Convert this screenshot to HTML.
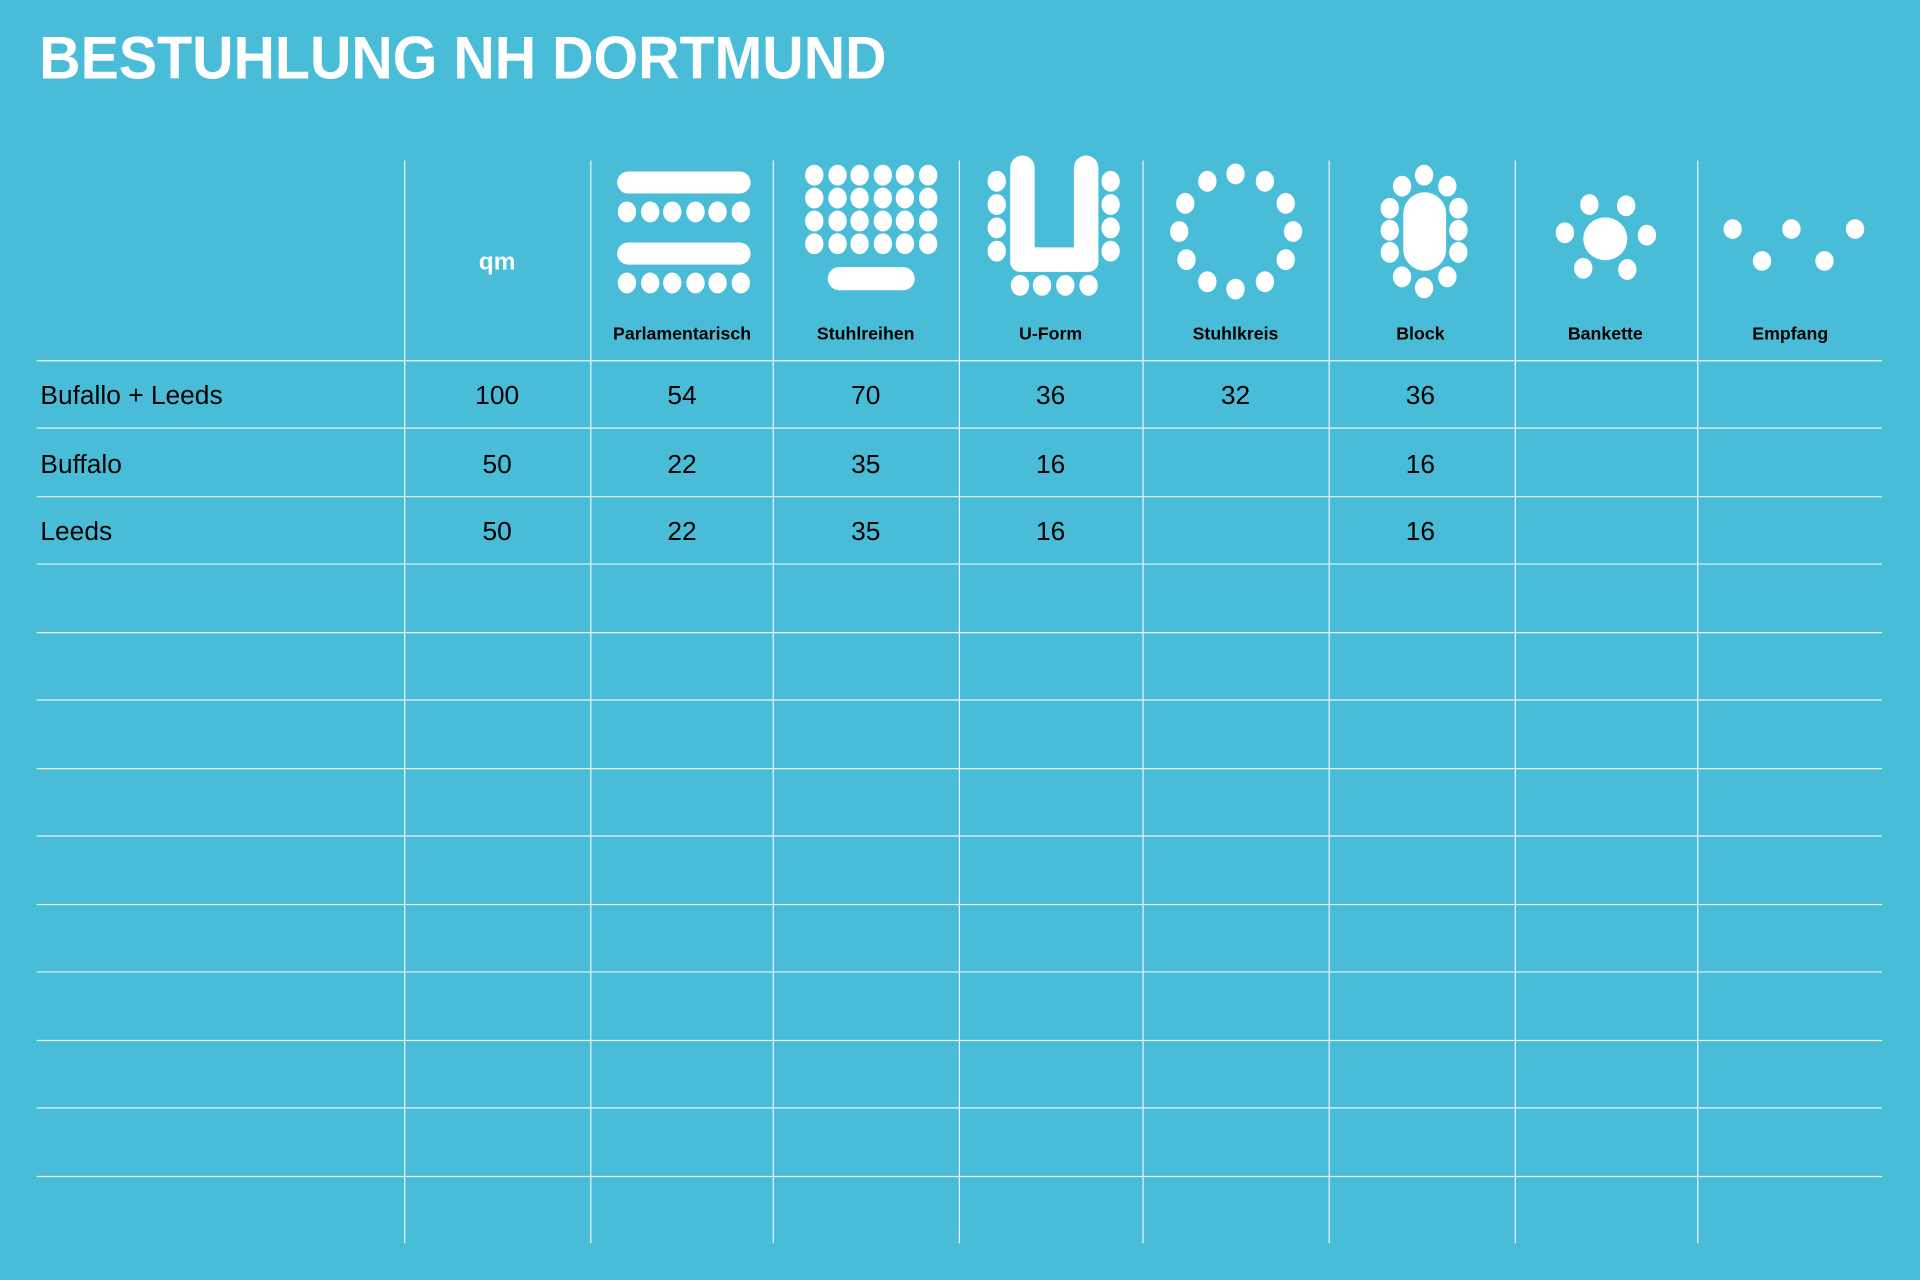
<!DOCTYPE html>
<html><head><meta charset="utf-8"><style>html,body{margin:0;padding:0;background:#49bdd8;}svg{display:block}</style></head>
<body>
<svg width="1920" height="1280" viewBox="0 0 1568 1045" preserveAspectRatio="none" xmlns="http://www.w3.org/2000/svg" font-family="'Liberation Sans', Arial, sans-serif">
<rect width="1568" height="1045" fill="#49bdd8"/>
<text x="32" y="64" font-size="49" font-weight="bold" fill="#fff" textLength="692" lengthAdjust="spacingAndGlyphs">BESTUHLUNG NH DORTMUND</text>
<g stroke="#e6f5f9" stroke-width="1">
<line x1="330.5" y1="131" x2="330.5" y2="1015"/><line x1="482.5" y1="131" x2="482.5" y2="1015"/>
<line x1="631.5" y1="131" x2="631.5" y2="1015"/><line x1="783.5" y1="131" x2="783.5" y2="1015"/>
<line x1="933.5" y1="131" x2="933.5" y2="1015"/><line x1="1085.5" y1="131" x2="1085.5" y2="1015"/>
<line x1="1237.5" y1="131" x2="1237.5" y2="1015"/><line x1="1386.5" y1="131" x2="1386.5" y2="1015"/>
<line x1="30" y1="294.5" x2="1537" y2="294.5"/><line x1="30" y1="349.5" x2="1537" y2="349.5"/>
<line x1="30" y1="405.5" x2="1537" y2="405.5"/><line x1="30" y1="460.5" x2="1537" y2="460.5"/>
<line x1="30" y1="516.5" x2="1537" y2="516.5"/><line x1="30" y1="571.5" x2="1537" y2="571.5"/>
<line x1="30" y1="627.5" x2="1537" y2="627.5"/><line x1="30" y1="682.5" x2="1537" y2="682.5"/>
<line x1="30" y1="738.5" x2="1537" y2="738.5"/><line x1="30" y1="793.5" x2="1537" y2="793.5"/>
<line x1="30" y1="849.5" x2="1537" y2="849.5"/><line x1="30" y1="904.5" x2="1537" y2="904.5"/>
<line x1="30" y1="960.5" x2="1537" y2="960.5"/>
</g>
<text x="406" y="220" font-size="20" font-weight="bold" fill="#fff" text-anchor="middle">qm</text>
<g font-size="14.5" font-weight="bold" fill="#000" text-anchor="middle">
<text x="557" y="277">Parlamentarisch</text><text x="707" y="277">Stuhlreihen</text>
<text x="858" y="277">U-Form</text><text x="1009" y="277">Stuhlkreis</text>
<text x="1160" y="277">Block</text><text x="1311" y="277">Bankette</text><text x="1462" y="277">Empfang</text>
</g>
<g font-size="21.5" fill="#000">
<text x="33" y="330">Bufallo + Leeds</text><text x="33" y="386">Buffalo</text><text x="33" y="441">Leeds</text>
<g text-anchor="middle">
<text x="406" y="330">100</text><text x="557" y="330">54</text><text x="707" y="330">70</text><text x="858" y="330">36</text><text x="1009" y="330">32</text><text x="1160" y="330">36</text>
<text x="406" y="386">50</text><text x="557" y="386">22</text><text x="707" y="386">35</text><text x="858" y="386">16</text><text x="1160" y="386">16</text>
<text x="406" y="441">50</text><text x="557" y="441">22</text><text x="707" y="441">35</text><text x="858" y="441">16</text><text x="1160" y="441">16</text>
</g></g>
<g fill="#fff">
<!-- Parlamentarisch -->
<rect x="504" y="140" width="109" height="18" rx="9"/><rect x="504" y="198" width="109" height="18" rx="9"/>
<g><ellipse cx="512" cy="173" rx="7.5" ry="8.5"/><ellipse cx="531" cy="173" rx="7.5" ry="8.5"/><ellipse cx="549" cy="173" rx="7.5" ry="8.5"/><ellipse cx="568" cy="173" rx="7.5" ry="8.5"/><ellipse cx="586" cy="173" rx="7.5" ry="8.5"/><ellipse cx="605" cy="173" rx="7.5" ry="8.5"/>
<ellipse cx="512" cy="231" rx="7.5" ry="8.5"/><ellipse cx="531" cy="231" rx="7.5" ry="8.5"/><ellipse cx="549" cy="231" rx="7.5" ry="8.5"/><ellipse cx="568" cy="231" rx="7.5" ry="8.5"/><ellipse cx="586" cy="231" rx="7.5" ry="8.5"/><ellipse cx="605" cy="231" rx="7.5" ry="8.5"/></g>
<!-- Stuhlreihen -->
<g id="r1"><ellipse cx="665" cy="143" rx="7.5" ry="8.5"/><ellipse cx="684" cy="143" rx="7.5" ry="8.5"/><ellipse cx="702" cy="143" rx="7.5" ry="8.5"/><ellipse cx="721" cy="143" rx="7.5" ry="8.5"/><ellipse cx="739" cy="143" rx="7.5" ry="8.5"/><ellipse cx="758" cy="143" rx="7.5" ry="8.5"/></g>
<use href="#r1" y="18.7"/><use href="#r1" y="37.4"/><use href="#r1" y="56"/>
<rect x="676" y="218" width="71" height="19" rx="9.5"/>
<!-- U-Form -->
<path d="M825 137a6 6 0 0 1 20 0V202H877V137a6 6 0 0 1 20 0V214a8 8 0 0 1-8 8H833a8 8 0 0 1-8-8Z"/>
<g><ellipse cx="814" cy="148" rx="7.5" ry="8.5"/><ellipse cx="814" cy="167" rx="7.5" ry="8.5"/><ellipse cx="814" cy="186" rx="7.5" ry="8.5"/><ellipse cx="814" cy="205" rx="7.5" ry="8.5"/>
<ellipse cx="907" cy="148" rx="7.5" ry="8.5"/><ellipse cx="907" cy="167" rx="7.5" ry="8.5"/><ellipse cx="907" cy="186" rx="7.5" ry="8.5"/><ellipse cx="907" cy="205" rx="7.5" ry="8.5"/>
<ellipse cx="833" cy="233" rx="7.5" ry="8.5"/><ellipse cx="851" cy="233" rx="7.5" ry="8.5"/><ellipse cx="870" cy="233" rx="7.5" ry="8.5"/><ellipse cx="889" cy="233" rx="7.5" ry="8.5"/></g>
<!-- Stuhlkreis -->
<g><ellipse cx="1009" cy="142" rx="7.5" ry="8.5"/><ellipse cx="986" cy="148" rx="7.5" ry="8.5"/><ellipse cx="1033" cy="148" rx="7.5" ry="8.5"/><ellipse cx="968" cy="166" rx="7.5" ry="8.5"/><ellipse cx="1050" cy="166" rx="7.5" ry="8.5"/><ellipse cx="963" cy="189" rx="7.5" ry="8.5"/><ellipse cx="1056" cy="189" rx="7.5" ry="8.5"/><ellipse cx="969" cy="212" rx="7.5" ry="8.5"/><ellipse cx="1050" cy="212" rx="7.5" ry="8.5"/><ellipse cx="986" cy="230" rx="7.5" ry="8.5"/><ellipse cx="1033" cy="230" rx="7.5" ry="8.5"/><ellipse cx="1009" cy="236" rx="7.5" ry="8.5"/></g>
<!-- Block -->
<rect x="1146" y="157" width="35" height="64" rx="17.5"/>
<g><ellipse cx="1163" cy="143" rx="7.5" ry="8.5"/><ellipse cx="1145" cy="152" rx="7.5" ry="8.5"/><ellipse cx="1182" cy="152" rx="7.5" ry="8.5"/><ellipse cx="1135" cy="170" rx="7.5" ry="8.5"/><ellipse cx="1135" cy="188" rx="7.5" ry="8.5"/><ellipse cx="1135" cy="206" rx="7.5" ry="8.5"/><ellipse cx="1191" cy="170" rx="7.5" ry="8.5"/><ellipse cx="1191" cy="188" rx="7.5" ry="8.5"/><ellipse cx="1191" cy="206" rx="7.5" ry="8.5"/><ellipse cx="1145" cy="226" rx="7.5" ry="8.5"/><ellipse cx="1182" cy="226" rx="7.5" ry="8.5"/><ellipse cx="1163" cy="235" rx="7.5" ry="8.5"/></g>
<!-- Bankette -->
<ellipse cx="1311" cy="195" rx="18" ry="17.5"/>
<g><ellipse cx="1298" cy="167" rx="7.5" ry="8.5"/><ellipse cx="1328" cy="168" rx="7.5" ry="8.5"/><ellipse cx="1278" cy="190" rx="7.5" ry="8.5"/><ellipse cx="1345" cy="192" rx="7.5" ry="8.5"/><ellipse cx="1293" cy="219" rx="7.5" ry="8.5"/><ellipse cx="1329" cy="220" rx="7.5" ry="8.5"/></g>
<!-- Empfang -->
<g><ellipse cx="1415" cy="187" rx="7.5" ry="8"/><ellipse cx="1463" cy="187" rx="7.5" ry="8"/><ellipse cx="1515" cy="187" rx="7.5" ry="8"/><ellipse cx="1439" cy="213" rx="7.5" ry="8"/><ellipse cx="1490" cy="213" rx="7.5" ry="8"/></g>
</g>
</svg>
</body></html>
